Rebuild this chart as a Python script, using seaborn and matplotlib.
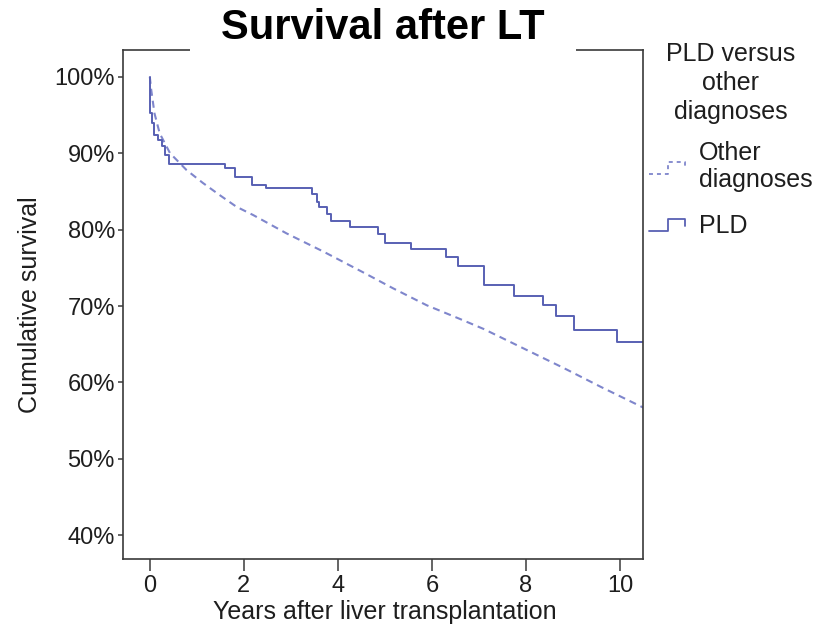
import matplotlib
matplotlib.use("Agg")
import matplotlib.pyplot as plt
from matplotlib.lines import Line2D
from matplotlib.legend_handler import HandlerBase
from matplotlib.ticker import PercentFormatter
import seaborn as sns
import pandas as pd

# ---- data ----
pld_time = [0.0, 0.01, 0.05, 0.09, 0.18, 0.25, 0.32, 0.40, 1.60, 1.81, 2.18, 2.48,
            3.46, 3.55, 3.60, 3.76, 3.85, 4.26, 4.86, 5.00, 5.55, 6.29, 6.56, 7.10,
            7.75, 8.37, 8.64, 9.03, 9.93, 10.5]
pld_surv = [1.000, 0.952, 0.939, 0.924, 0.917, 0.909, 0.898, 0.886, 0.881, 0.869,
            0.858, 0.854, 0.847, 0.836, 0.829, 0.821, 0.811, 0.804, 0.794, 0.783,
            0.774, 0.764, 0.753, 0.728, 0.713, 0.701, 0.687, 0.668, 0.653, 0.653]

other_time = [0.0, 0.03, 0.10, 0.21, 0.43, 0.78, 1.13, 1.49, 1.84, 2.20, 2.91, 3.70,
              4.54, 5.18, 5.89, 6.60, 7.10, 7.80, 8.80, 9.60, 10.5]
other_surv = [1.000, 0.983, 0.952, 0.926, 0.900, 0.878, 0.861, 0.845, 0.830, 0.819,
              0.795, 0.771, 0.744, 0.723, 0.701, 0.683, 0.670, 0.649, 0.619, 0.594,
              0.567]

x_ticks = [0, 2, 4, 6, 8, 10]
y_ticks = [0.4, 0.5, 0.6, 0.7, 0.8, 0.9, 1.0]
legend_labels = ["Other\ndiagnoses", "PLD"]
legend_title = "PLD versus\nother\ndiagnoses"
title = "Survival after LT"
xlabel = "Years after liver transplantation"
ylabel = "Cumulative survival"

pld_df = pd.DataFrame({"time": pld_time, "surv": pld_surv})
other_df = pd.DataFrame({"time": other_time, "surv": other_surv})

sns.set_theme(style="white")
plt.rcParams["font.family"] = ["Liberation Sans", "DejaVu Sans"]

TXT = "#1e1e1e"
C_PLD = "#5860b3"
C_OTH = "#7f86cc"

fig = plt.figure(figsize=(8.18, 6.31), dpi=100)
ax = fig.add_axes([123 / 818, 1 - 559 / 631, (643 - 123) / 818, (559 - 50) / 631])

sns.lineplot(data=other_df, x="time", y="surv", ax=ax, color=C_OTH,
             linewidth=1.5, dashes=False, estimator=None, sort=False)
ax.lines[-1].set_dashes((3.4, 2.4))
sns.lineplot(data=pld_df, x="time", y="surv", ax=ax, color=C_PLD,
             linewidth=1.4, drawstyle="steps-post", estimator=None, sort=False)

ax.set_xlim(-0.57, 10.49)
ax.set_ylim(0.369, 1.035)
ax.set_xticks(x_ticks)
ax.set_yticks(y_ticks)
ax.yaxis.set_major_formatter(PercentFormatter(1.0, decimals=0))

for s in ax.spines.values():
    s.set_visible(True)
    s.set_color("#3a3a3a")
    s.set_linewidth(1.2)

ax.tick_params(axis="x", which="major", length=8.5, width=1.1, color="#3a3a3a",
               labelsize=17, labelcolor=TXT, pad=3, bottom=True)
ax.tick_params(axis="y", which="major", length=3.8, width=1.1, color="#3a3a3a",
               labelsize=17, labelcolor=TXT, pad=2, left=True)

ax.set_xlabel(xlabel, fontsize=18, color=TXT)
ax.set_ylabel(ylabel, fontsize=18, color=TXT)
ax.xaxis.set_label_coords(0.504, -0.104)
ax.xaxis.label.set_va("center")
ax.yaxis.set_label_coords(-0.179, 0.5)
ax.yaxis.label.set_va("center")

# title with white background covering top spine
fig.text(383 / 818, 1 - 28 / 631, title, fontsize=30, fontweight="bold",
         color="black", ha="center", va="center", zorder=10,
         bbox=dict(facecolor="white", edgecolor="none",
                   boxstyle="square,pad=0.75"))


class StepHandler(HandlerBase):
    def __init__(self, ls):
        super().__init__()
        self.ls = ls

    def create_artists(self, legend, orig_handle, xdescent, ydescent, width,
                       height, fontsize, trans):
        x0 = -xdescent
        y0 = -ydescent
        xs = [x0, x0 + width * 0.45, x0 + width * 0.45, x0 + width * 0.85,
              x0 + width * 0.85]
        ys = [y0 + height * 0.1, y0 + height * 0.1, y0 + height * 0.8,
              y0 + height * 0.8, y0 + height * 0.4]
        ln = Line2D(xs, ys, color=orig_handle.get_color(), linewidth=1.3,
                    transform=trans)
        if self.ls == "dashed":
            ln.set_dashes((2.2, 2.2))
        return [ln]


h_oth = Line2D([], [], color=C_OTH)
h_pld = Line2D([], [], color=C_PLD)
leg = fig.legend([h_oth, h_pld], legend_labels, title=legend_title,
                 loc="upper left", bbox_to_anchor=(649 / 818, 1 - 42 / 631),
                 frameon=False, fontsize=18, title_fontsize=18,
                 handler_map={h_oth: StepHandler("dashed"),
                              h_pld: StepHandler("solid")},
                 handlelength=1.7, handletextpad=0.3, labelspacing=0.85,
                 borderpad=0.0, borderaxespad=0.0)
leg.get_title().set_multialignment("center")
leg.get_title().set_linespacing(1.27)
leg.get_title().set_color(TXT)
for t in leg.get_texts():
    t.set_color(TXT)
    t.set_linespacing(1.18)
leg._legend_box.sep = 12

fig.savefig("out.png", dpi=100)
